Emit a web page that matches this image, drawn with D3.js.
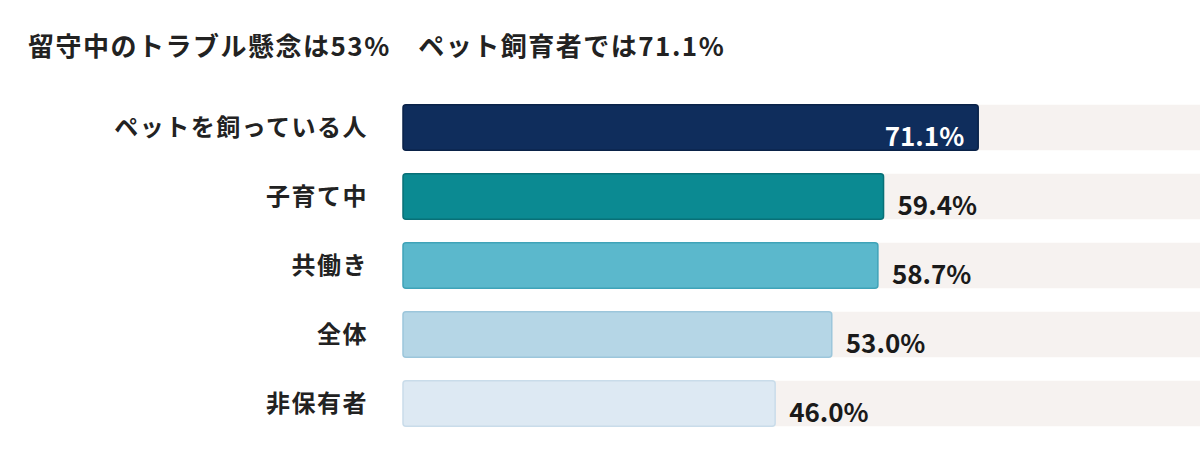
<!DOCTYPE html>
<html><head><meta charset="utf-8">
<script src="https://cdn.jsdelivr.net/npm/d3@7"></script>
<style>body{margin:0;background:#fff}</style></head>
<body><svg id="c" width="1200" height="450"></svg>
<script>
const categories = ["ペットを飼っている人","子育て中","共働き","全体","非保有者"];
const values = [71.1, 59.4, 58.7, 53.0, 46.0];
const colors = ["#0f2d5c","#0b8a92","#5bb8cc","#b5d6e6","#dde9f3"];
const strokes = ["#0a2248","#087077","#3fa3b8","#9cc6db","#c9dcea"];
const title = "留守中のトラブル懸念は53%　ペット飼育者では71.1%";
const font = "'Noto Sans CJK JP','Noto Sans',sans-serif";
const svg = d3.select("#c");
const x = d3.scaleLinear().domain([0,100]).range([403,1212]);
const y = d3.scaleBand().domain(categories).range([93,438]).paddingInner(0.34).paddingOuter(0.17);
svg.append("text").attr("x",28).attr("y",56).text(title)
  .style("font-family",font).style("font-weight","700").style("font-size","26px").style("letter-spacing","1.5px").attr("fill","#222");
const g = svg.selectAll("g.row").data(categories).join("g");
g.append("rect").attr("x",x(0)).attr("y",d=>y(d)).attr("width",1200-x(0)).attr("height",y.bandwidth()).attr("fill","#f6f2f0");
g.append("rect").attr("x",x(0)).attr("y",d=>y(d)).attr("width",(d,i)=>x(values[i])-x(0)).attr("height",y.bandwidth())
  .attr("rx",3).attr("fill",(d,i)=>colors[i]).attr("stroke",(d,i)=>strokes[i]).attr("stroke-width",1.5);
g.append("text").attr("x",368).attr("y",d=>y(d)+y.bandwidth()/2).attr("dy","0.35em").attr("text-anchor","end")
  .text(d=>d).style("font-family",font).style("font-weight","700").style("font-size","24px").style("letter-spacing","1.5px").attr("fill","#222");
g.append("text").attr("x",(d,i)=>i===0? x(values[i])-14 : x(values[i])+14)
  .attr("y",d=>y(d)+y.bandwidth()/2+9).attr("dy","0.35em")
  .attr("text-anchor",(d,i)=>i===0?"end":"start")
  .text((d,i)=>values[i].toFixed(1)+"%").style("font-family",font).style("font-weight","700").style("font-size","26px")
  .attr("fill",(d,i)=>i===0?"#fff":"#1a1a1a");
</script></body></html>
